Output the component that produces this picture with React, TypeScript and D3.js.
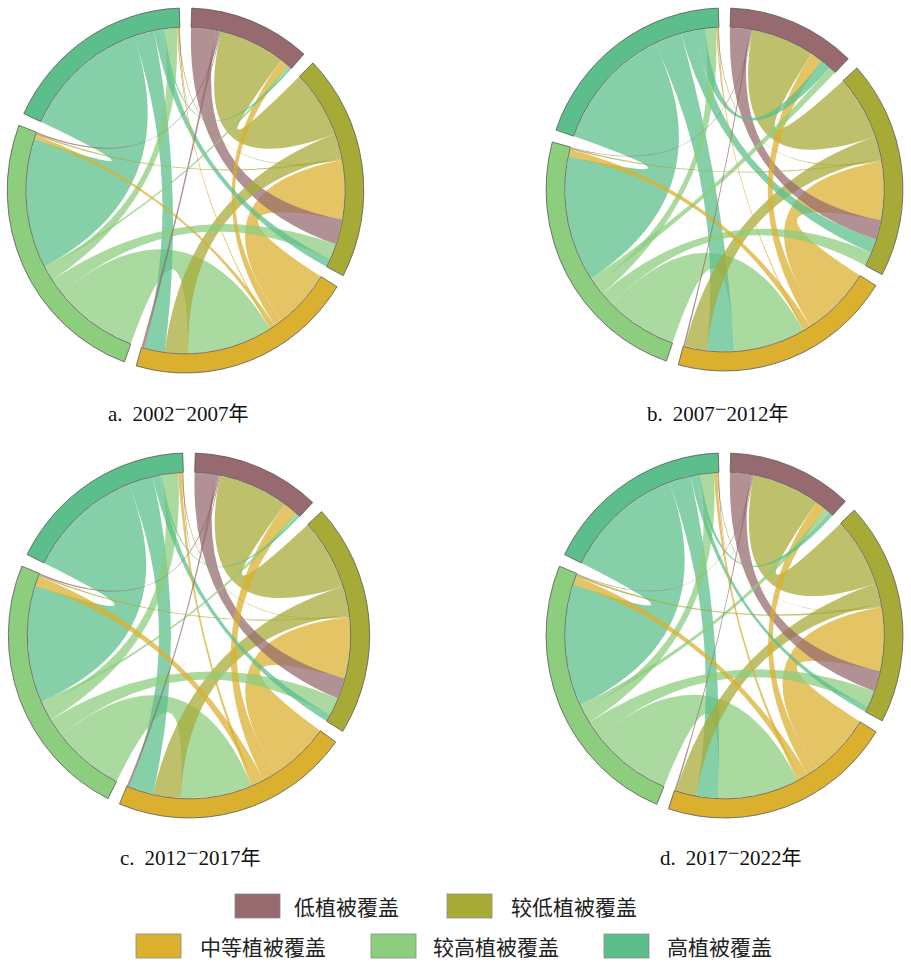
import React from 'react';
import * as d3 from 'd3';

// Land-cover classes (sector order, clockwise from top)
const categories = ['低植被覆盖', '较低植被覆盖', '中等植被覆盖', '较高植被覆盖', '高植被覆盖'];

// Transfer matrices: row = source class, column = destination class
const flows2002_2007 = [
  [0, 9, 1, 0.5, 0.3],
  [24, 0, 8.5, 0.6, 0.4],
  [3, 21, 0, 1.5, 0.5],
  [1, 5.5, 31, 0, 4.5],
  [0.7, 3, 7.5, 46, 0],
];
const flows2007_2012 = [
  [0, 7, 0.6, 0.3, 0.2],
  [23, 0, 8, 0.6, 0.4],
  [4.4, 21, 0, 2.5, 0.5],
  [2.7, 5, 26, 0, 4],
  [3.7, 5, 10, 45, 0],
];
const flows2012_2017 = [
  [0, 7.5, 0.8, 0.5, 0.3],
  [25.5, 0, 10, 0.6, 0.4],
  [5, 22, 0, 3.5, 1.2],
  [1.2, 6.5, 26, 0, 6],
  [0.7, 2.5, 9, 42, 0],
];
const flows2017_2022 = [
  [0, 7.4, 0.6, 0.3, 0.3],
  [25, 0, 7.5, 0.8, 0.4],
  [4, 23, 0, 3, 1.2],
  [2, 6, 30, 0, 5],
  [1.5, 2, 8, 44, 0],
];

const panelLetters = ['a.', 'b.', 'c.', 'd.'];
const startYears = ['2002', '2007', '2012', '2017'];
const endYears = ['2007', '2012', '2017', '2022'];

// Styles
const COLORS = ['#976a6f', '#a8aa38', '#dbb02e', '#8ccd7e', '#5bbe8b'];
const PAD = (4 * Math.PI) / 180;
const SERIF = "'Liberation Serif', 'Times New Roman', 'Noto Sans CJK SC', serif";
const CJK = "'Noto Sans CJK SC', 'Noto Sans', sans-serif";

const matrices = [flows2002_2007, flows2007_2012, flows2012_2017, flows2017_2022];

const layout = [
  { cx: 185.5, cy: 190.5, r: 182.5, sx: 0.977, capX: 108, capY: 421 },
  { cx: 724.5, cy: 189.5, r: 181.5, sx: 0.983, capX: 647, capY: 421 },
  { cx: 189, cy: 635.5, r: 182.5, sx: 0.99, capX: 120, capY: 865 },
  { cx: 724.5, cy: 635.5, r: 182.5, sx: 0.978, capX: 660, capY: 865 },
];

const legendLayout = [
  { x: 235, y: 894, tx: 294 },
  { x: 447, y: 894, tx: 511 },
  { x: 136, y: 934, tx: 200 },
  { x: 371, y: 934, tx: 433 },
  { x: 604, y: 934, tx: 667 },
];

// outgoing links first (largest first), then incoming links (largest first)
function subgroupOrder(a: number, b: number) {
  const ao = a >= 0;
  const bo = b >= 0;
  if (ao !== bo) return ao ? -1 : 1;
  return ao ? b - a : a - b;
}

function ChordPanel({ matrix, cx, cy, r, sx }: any) {
  const rIn = r * 0.895;
  const chords: any = d3.chordDirected().padAngle(PAD).sortSubgroups(subgroupOrder)(matrix);
  const arc: any = d3.arc().innerRadius(rIn).outerRadius(r);
  const ribbon: any = d3.ribbon().radius(rIn - 0.5);
  const sorted = [...chords].sort((p: any, q: any) => q.source.value - p.source.value);
  const rot = (PAD * 90) / Math.PI;
  return (
    <g transform={`translate(${cx},${cy}) scale(${sx},1) rotate(${rot})`}>
      {sorted.map((c: any, i: number) => (
        <path key={i} d={ribbon(c)} fill={COLORS[c.source.index]} fillOpacity={0.74} />
      ))}
      {chords.groups.map((g: any) => (
        <path key={g.index} d={arc(g)} fill={COLORS[g.index]} stroke="#5a5a5a" strokeWidth={0.8} />
      ))}
    </g>
  );
}

export default function App() {
  return (
    <svg
      width={911}
      height={962}
      style={{ position: 'absolute', left: 0, top: 0, background: '#fff' }}
    >
      <rect x={0} y={0} width={911} height={962} fill="#fff" />
      {layout.map((p, k) => (
        <g key={k}>
          <ChordPanel matrix={matrices[k]} cx={p.cx} cy={p.cy} r={p.r} sx={p.sx} />
          <text x={p.capX} y={p.capY} fontFamily={SERIF} fontSize={21} fill="#111">
            <tspan>{panelLetters[k]}</tspan>
            <tspan dx={10}>{startYears[k]}</tspan>
            <tspan dy={-5}>−</tspan>
            <tspan dy={5}>{endYears[k]}</tspan>
            <tspan fontFamily={CJK} fontSize={20}>年</tspan>
          </text>
        </g>
      ))}
      {categories.map((name, i) => (
        <g key={name}>
          <rect
            x={legendLayout[i].x}
            y={legendLayout[i].y}
            width={45}
            height={24}
            fill={COLORS[i]}
            stroke="#8a8a8a"
            strokeWidth={0.8}
          />
          <text
            x={legendLayout[i].tx}
            y={legendLayout[i].y + 12}
            dominantBaseline="central"
            fontFamily={CJK}
            fontSize={21}
            fill="#222"
          >
            {name}
          </text>
        </g>
      ))}
    </svg>
  );
}
